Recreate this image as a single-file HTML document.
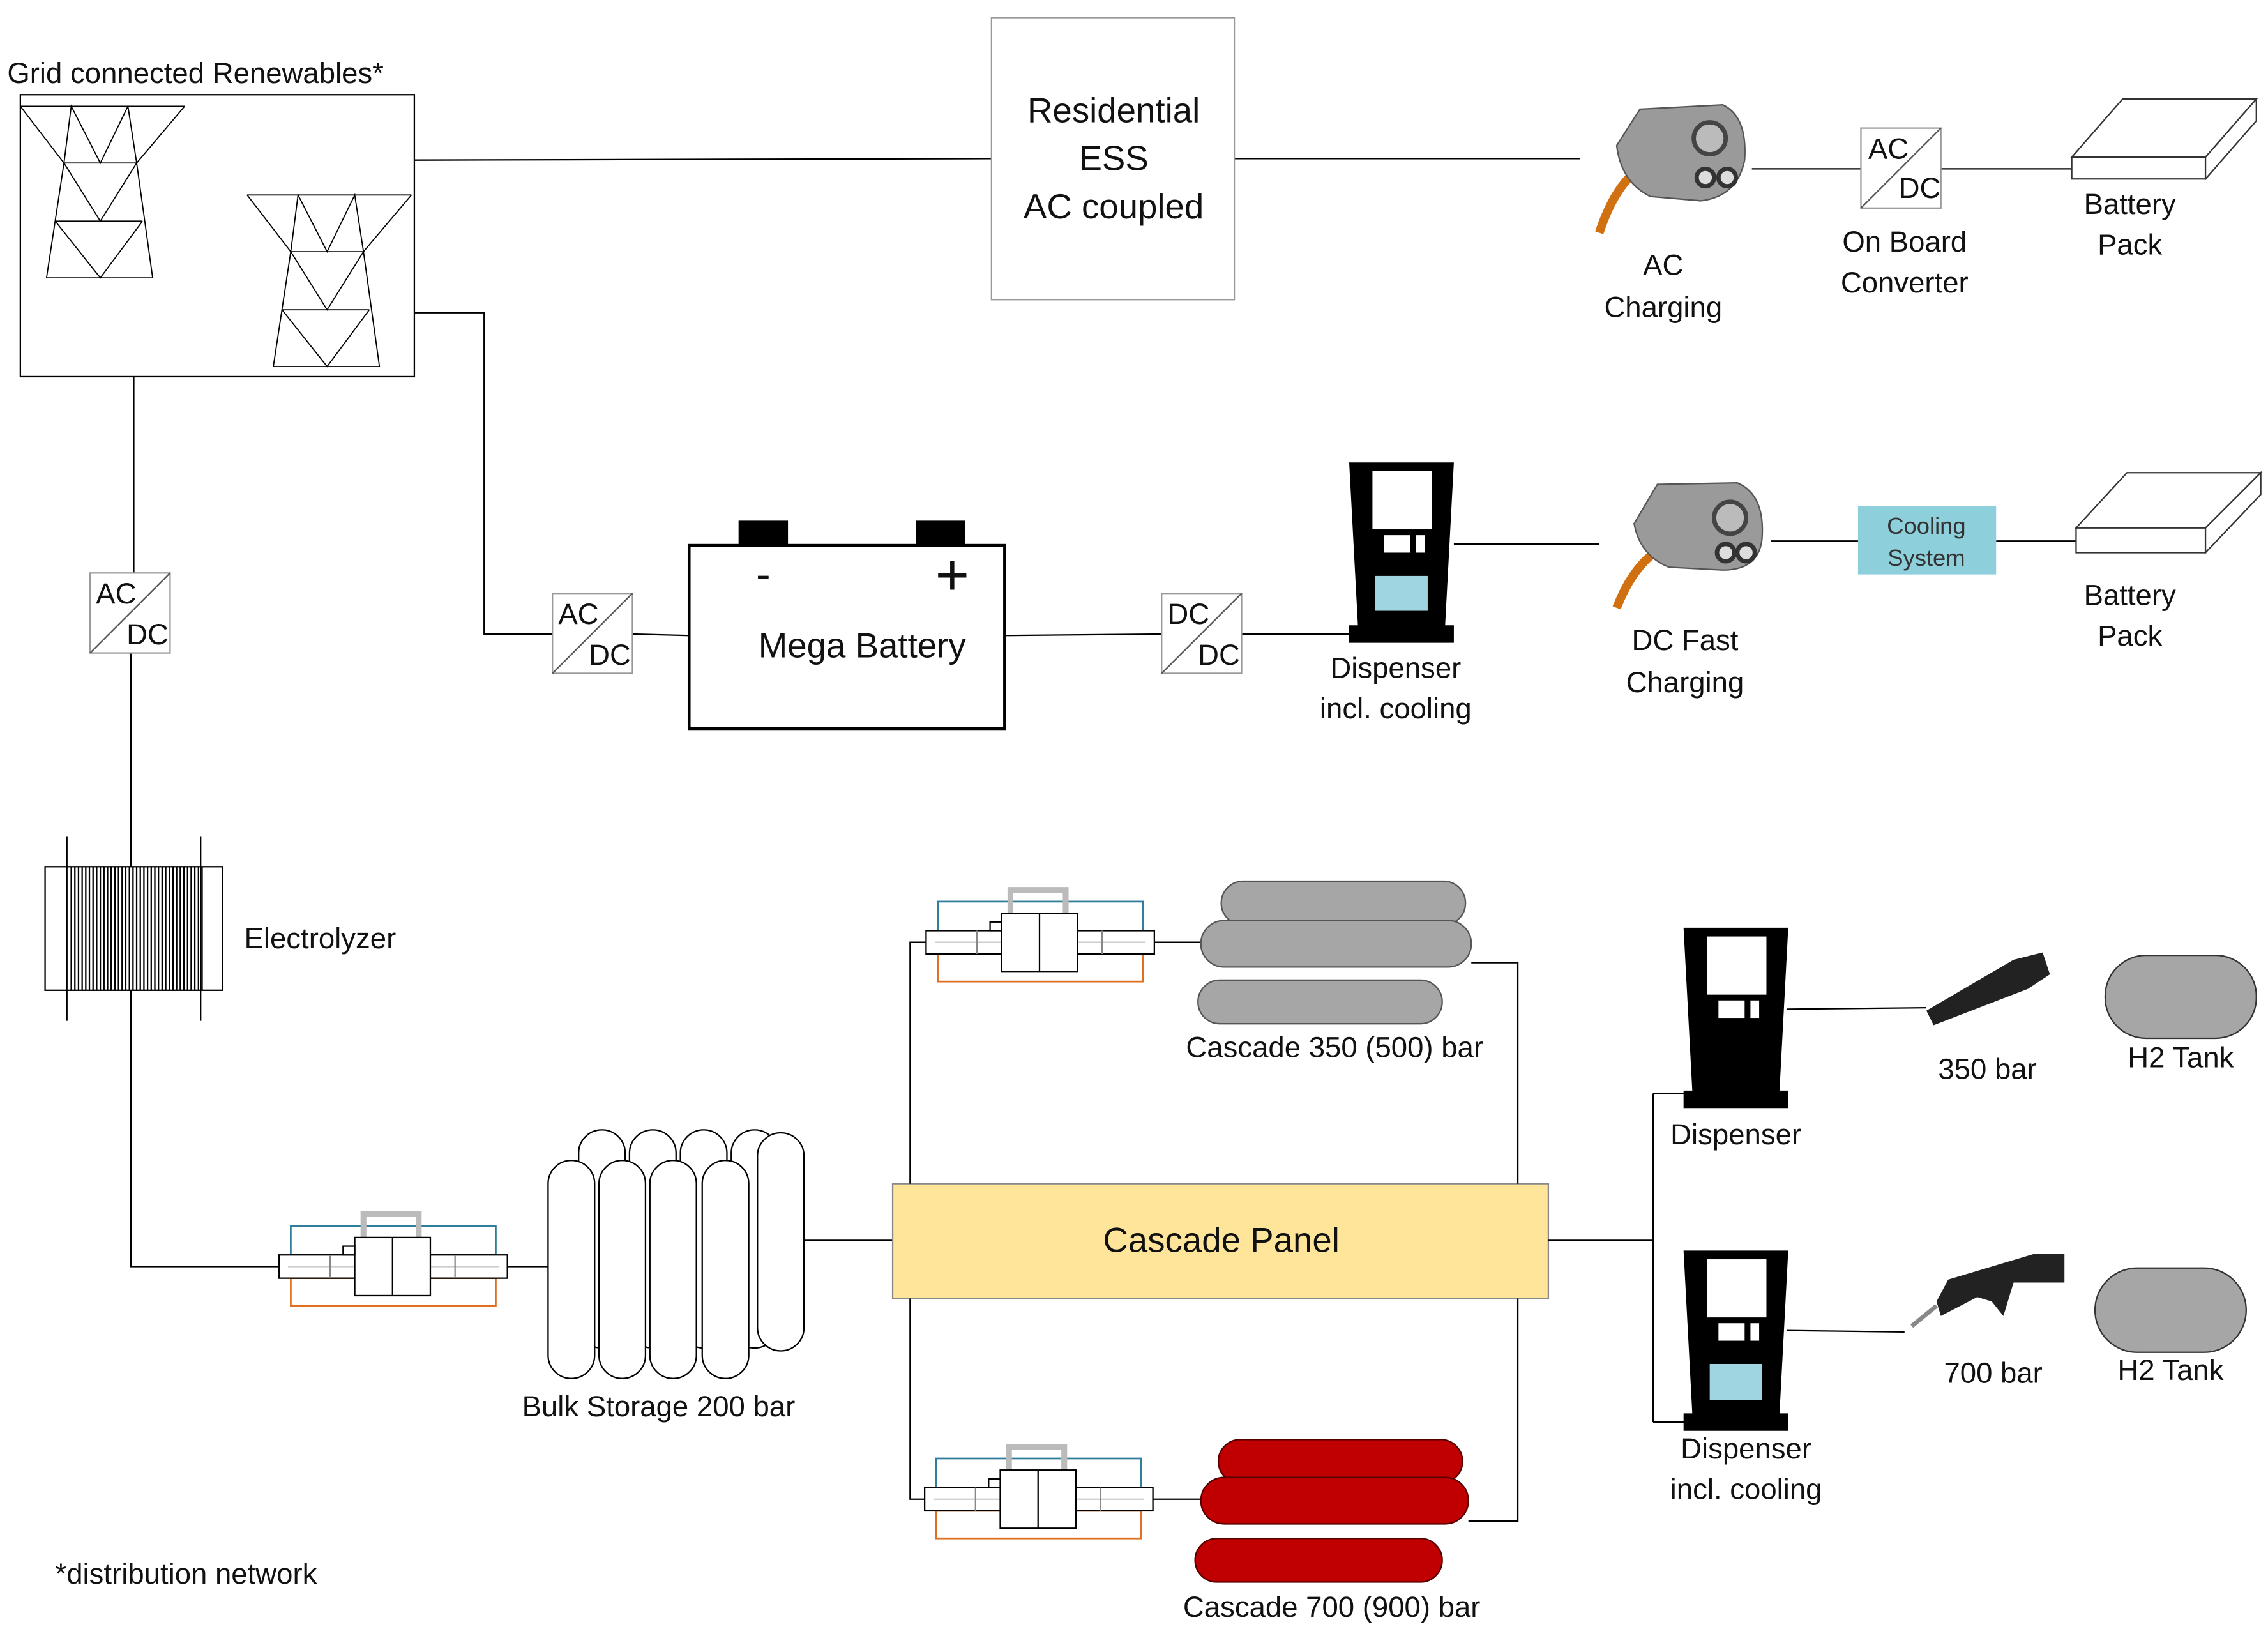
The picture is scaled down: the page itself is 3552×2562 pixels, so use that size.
<!DOCTYPE html>
<html><head><meta charset="utf-8"><style>
html,body{margin:0;padding:0;background:#fff;}
svg{display:block;}
text{font-family:"Liberation Sans",sans-serif;fill:#111;}
</style></head><body>
<svg width="3552" height="2562" viewBox="0 0 1560 1125" xmlns="http://www.w3.org/2000/svg">
<defs>
<g id="turb" fill="none" stroke="#000" stroke-width="0.8">
<!-- W=113,H=118 -->
<path d="M0,0 H113 M0,0 L30,39 L35,0 L55,39 L74,0 L80,39 L113,0 M30,39 H80 M30,39 L55,79 L80,39 M24,79 H84 M24,79 L55,118 L84,79 M30,39 L18,118 H91 L80,39"/>
</g>
<g id="acdc">
<rect x="0" y="0" width="55" height="55" fill="#fff" stroke="#999" stroke-width="1"/>
<line x1="0" y1="55" x2="55" y2="0" stroke="#555" stroke-width="1"/>
</g>
<g id="comp">
<rect x="8" y="8" width="141" height="20" fill="none" stroke="#2e7d9a" stroke-width="1.2"/>
<rect x="8" y="44" width="141" height="19" fill="none" stroke="#e07020" stroke-width="1.2"/>
<rect x="0" y="28" width="157" height="16" fill="#fff" stroke="#000" stroke-width="1"/>
<line x1="6" y1="36" x2="151" y2="36" stroke="#ccc"/>
<line x1="35" y1="28" x2="35" y2="44" stroke="#888"/><line x1="121" y1="28" x2="121" y2="44" stroke="#888"/>
<path d="M58,16 V0 H96 V16" fill="none" stroke="#bbb" stroke-width="4"/>
<rect x="52" y="16" width="52" height="40" fill="#fff" stroke="#000" stroke-width="1"/>
<line x1="78" y1="16" x2="78" y2="56" stroke="#000"/>
<rect x="44" y="22" width="8" height="6" fill="#fff" stroke="#000"/>
</g>
<g id="disp">
<path d="M0,0 H72 L66,112 H72 V124 H0 V112 H6 Z" fill="#000"/>
<rect x="16" y="6" width="41" height="40" fill="#fff"/>
<rect x="24" y="50" width="18" height="12" fill="#fff"/>
<rect x="46" y="50" width="6" height="12" fill="#fff"/>
</g>
</defs>

<!-- Renewables -->
<text x="5" y="57" font-size="20">Grid connected Renewables*</text>
<rect x="14" y="65" width="271" height="194" fill="none" stroke="#000" stroke-width="1"/>
<use href="#turb" x="14" y="73"/>
<use href="#turb" x="170" y="134"/>

<!-- lines top -->
<path d="M285,110 L682,109 M849,109 H1087 M1205,116 H1280 M1335,116 H1425" stroke="#000" fill="none"/>
<rect x="682" y="12" width="167" height="194" fill="#fff" stroke="#999"/>
<text x="766" y="84" font-size="24" text-anchor="middle">Residential</text>
<text x="766" y="117" font-size="24" text-anchor="middle">ESS</text>
<text x="766" y="150" font-size="24" text-anchor="middle">AC coupled</text>

<!-- AC connector -->
<g>
<path d="M1100,160 Q1110,130 1125,118" stroke="#d07010" stroke-width="6" fill="none"/>
<path d="M1112,100 L1128,75 L1185,72 Q1202,80 1200,110 Q1195,135 1170,138 L1135,135 Q1115,125 1112,100 Z" fill="#9a9a9a" stroke="#555"/>
<circle cx="1176" cy="95" r="11" fill="#bbb" stroke="#444" stroke-width="3"/>
<circle cx="1173" cy="122" r="6" fill="#ddd" stroke="#333" stroke-width="3"/><circle cx="1188" cy="122" r="6" fill="#ddd" stroke="#333" stroke-width="3"/>
</g>
<text x="1144" y="189" font-size="20" text-anchor="middle">AC</text>
<text x="1144" y="218" font-size="20" text-anchor="middle">Charging</text>
<use href="#acdc" x="1280" y="88"/>
<text x="1285" y="109" font-size="20">AC</text><text x="1306" y="136" font-size="20">DC</text>
<text x="1310" y="173" font-size="20" text-anchor="middle">On Board</text>
<text x="1310" y="201" font-size="20" text-anchor="middle">Converter</text>
<g fill="#fff" stroke="#333" stroke-width="1">
<path d="M1425,108 L1460,68 H1552 L1517,108 Z"/><path d="M1425,108 H1517 V123 H1425 Z"/><path d="M1517,108 L1552,68 V83 L1517,123 Z"/>
</g>
<text x="1465" y="147" font-size="20" text-anchor="middle">Battery</text>
<text x="1465" y="175" font-size="20" text-anchor="middle">Pack</text>

<!-- middle -->
<path d="M285,215 H333 V436 H380 M435,436 L474,437 M691,437 L799,436 M854,436 H928 M1000,374 H1100 M1218,372 H1278 M1373,372 H1428" stroke="#000" fill="none"/>
<use href="#acdc" x="380" y="408"/>
<text x="384" y="429" font-size="20">AC</text><text x="405" y="457" font-size="20">DC</text>
<rect x="474" y="375" width="217" height="126" fill="#fff" stroke="#000" stroke-width="2"/>
<rect x="508" y="358" width="34" height="17" fill="#000"/><rect x="630" y="358" width="34" height="17" fill="#000"/>
<text x="525" y="405" font-size="30" text-anchor="middle">-</text>
<text x="655" y="409" font-size="40" text-anchor="middle">+</text>
<text x="593" y="452" font-size="24" text-anchor="middle">Mega Battery</text>
<use href="#acdc" x="799" y="408"/>
<text x="803" y="429" font-size="20">DC</text><text x="824" y="457" font-size="20">DC</text>
<use href="#disp" x="928" y="318"/>
<rect x="946" y="396" width="36" height="24" fill="#9fd5e0"/>
<text x="960" y="466" font-size="20" text-anchor="middle">Dispenser</text>
<text x="960" y="494" font-size="20" text-anchor="middle">incl. cooling</text>
<g>
<path d="M1112,418 Q1122,392 1138,380" stroke="#d07010" stroke-width="6" fill="none"/>
<path d="M1124,360 L1140,333 L1195,332 Q1214,340 1212,370 Q1210,392 1185,392 L1148,390 Q1128,382 1124,360 Z" fill="#9a9a9a" stroke="#555"/>
<circle cx="1190" cy="356" r="11" fill="#bbb" stroke="#444" stroke-width="3"/>
<circle cx="1187" cy="380" r="6" fill="#ddd" stroke="#333" stroke-width="3"/><circle cx="1201" cy="380" r="6" fill="#ddd" stroke="#333" stroke-width="3"/>
</g>
<text x="1159" y="447" font-size="20" text-anchor="middle">DC Fast</text>
<text x="1159" y="476" font-size="20" text-anchor="middle">Charging</text>
<rect x="1278" y="348" width="95" height="47" fill="#8ecfdc"/>
<text x="1325" y="367" font-size="16" text-anchor="middle" style="fill:#333">Cooling</text>
<text x="1325" y="389" font-size="16" text-anchor="middle" style="fill:#333">System</text>
<g fill="#fff" stroke="#333" stroke-width="1">
<path d="M1428,363 L1463,325 H1555 L1517,363 Z"/><path d="M1428,363 H1517 V380 H1428 Z"/><path d="M1517,363 L1555,325 V340 L1517,380 Z"/>
</g>
<text x="1465" y="416" font-size="20" text-anchor="middle">Battery</text>
<text x="1465" y="444" font-size="20" text-anchor="middle">Pack</text>

<!-- left chain -->
<path d="M92,259 V394 M90,449 V596 M90,681 V871 H192" stroke="#000" fill="none"/>
<use href="#acdc" x="62" y="394"/>
<text x="66" y="415" font-size="20">AC</text><text x="87" y="443" font-size="20">DC</text>
<rect x="31" y="596" width="122" height="85" fill="#fff" stroke="#000"/>
<path d="M46,575 V702 M138,575 V702" stroke="#000"/>
<g stroke="#000" stroke-width="1">
<path d="M49,596V681M51.5,596V681M54,596V681M56.5,596V681M59,596V681M61.5,596V681M64,596V681M66.5,596V681M69,596V681M71.5,596V681M74,596V681M76.5,596V681M79,596V681M81.5,596V681M84,596V681M86.5,596V681M89,596V681M91.5,596V681M94,596V681M96.5,596V681M99,596V681M101.5,596V681M104,596V681M106.5,596V681M109,596V681M111.5,596V681M114,596V681M116.5,596V681M119,596V681M121.5,596V681M124,596V681M126.5,596V681M129,596V681M131.5,596V681M134,596V681M136.5,596V681M139,596V681"/>
</g>
<text x="168" y="652" font-size="20">Electrolyzer</text>

<use href="#comp" x="192" y="835"/>
<path d="M349,871 H378 M553,853 H614" stroke="#000"/>
<!-- bulk storage -->
<g fill="#fff" stroke="#000" stroke-width="1">
<rect x="398" y="777" width="32" height="150" rx="16"/><rect x="433" y="777" width="32" height="150" rx="16"/><rect x="468" y="777" width="32" height="150" rx="16"/><rect x="503" y="777" width="32" height="150" rx="16"/><rect x="521" y="779" width="32" height="150" rx="16"/>
<rect x="377" y="798" width="32" height="150" rx="16"/><rect x="412" y="798" width="32" height="150" rx="16"/><rect x="447" y="798" width="32" height="150" rx="16"/><rect x="483" y="798" width="32" height="150" rx="16"/>
</g>
<text x="453" y="974" font-size="20" text-anchor="middle">Bulk Storage 200 bar</text>

<rect x="614" y="814" width="451" height="79" fill="#fee59a" stroke="#888"/>
<text x="840" y="861" font-size="24" text-anchor="middle">Cascade Panel</text>

<path d="M626,814 V648 H637 M794,648 H826 M1012,662 H1044 V814 M626,893 V1031 H637 M793,1031 H826 M1010,1046 H1044 V893" stroke="#000" fill="none"/>
<use href="#comp" x="637" y="612"/>
<use href="#comp" x="636" y="995"/>
<g fill="#a6a6a6" stroke="#555">
<rect x="840" y="606" width="168" height="30" rx="15"/><rect x="826" y="633" width="186" height="32" rx="16"/><rect x="824" y="674" width="168" height="30" rx="15"/>
</g>
<text x="918" y="727" font-size="20" text-anchor="middle">Cascade 350 (500) bar</text>
<g fill="#c00000" stroke="#500">
<rect x="838" y="990" width="168" height="30" rx="15"/><rect x="826" y="1016" width="184" height="32" rx="16"/><rect x="822" y="1058" width="170" height="30" rx="15"/>
</g>
<text x="916" y="1112" font-size="20" text-anchor="middle">Cascade 700 (900) bar</text>

<!-- right -->
<path d="M1065,853 H1137 M1137,752 V978 M1137,752 H1160 M1137,978 H1160 M1229,694 L1325,693 M1229,915 L1310,916" stroke="#000" fill="none"/>
<use href="#disp" x="1158" y="638"/>
<use href="#disp" x="1158" y="860"/>
<rect x="1176" y="938" width="36" height="25" fill="#9fd5e0"/>
<text x="1194" y="787" font-size="20" text-anchor="middle">Dispenser</text>
<text x="1201" y="1003" font-size="20" text-anchor="middle">Dispenser</text>
<text x="1201" y="1031" font-size="20" text-anchor="middle">incl. cooling</text>
<path d="M1325,695 L1385,660 L1405,655 L1410,670 L1395,680 L1330,705 Z" fill="#222"/>
<text x="1367" y="742" font-size="20" text-anchor="middle">350 bar</text>
<path d="M1340,880 L1400,862 H1420 V882 H1385 L1378,905 L1370,895 L1360,892 L1335,905 L1332,895 Z" fill="#222"/>
<path d="M1332,898 L1315,912" stroke="#888" stroke-width="3"/>
<text x="1371" y="951" font-size="20" text-anchor="middle">700 bar</text>
<rect x="1448" y="657" width="104" height="57" rx="28" fill="#a6a6a6" stroke="#333"/>
<text x="1500" y="734" font-size="20" text-anchor="middle">H2 Tank</text>
<rect x="1441" y="872" width="104" height="58" rx="29" fill="#a6a6a6" stroke="#333"/>
<text x="1493" y="949" font-size="20" text-anchor="middle">H2 Tank</text>

<text x="38" y="1089" font-size="20">*distribution network</text>
</svg>
</body></html>
